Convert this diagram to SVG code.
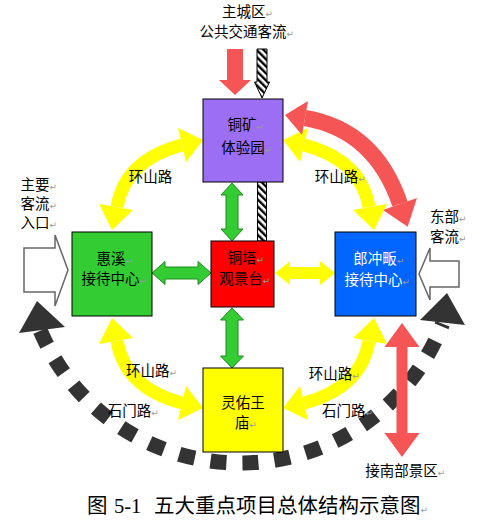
<svg xmlns="http://www.w3.org/2000/svg" width="491" height="528" viewBox="0 0 491 528">
<style>
.t{font-family:"Noto Sans CJK SC","Liberation Sans",sans-serif;font-size:14.5px;fill:#000}
.w{fill:#fff}
.pm{font-family:"DejaVu Sans",sans-serif;font-size:9px;fill:#999}
.box{stroke:#000;stroke-width:1}
.yl{fill:none;stroke:#ffff00;stroke-width:13}
.yh{fill:#ffff00}
.rd{fill:#f55555}
.gr{fill:#33cc33;stroke:#1f8a1f;stroke-width:1}
.wa{fill:#fff;stroke:#666;stroke-width:1.5}
.dk{fill:#333}
</style>
<defs>
<pattern id="hatch" patternUnits="userSpaceOnUse" width="5" height="5" patternTransform="rotate(-45)">
<rect width="5" height="5" fill="#fff"/>
<rect width="2.4" height="5" fill="#000"/>
</pattern>
</defs>
<rect width="491" height="528" fill="#fff"/>
<g id="connectors">
<path d="M40.3,330.8 A217,217 0 0,0 442.6,323.8" fill="none" stroke="#333" stroke-width="15" stroke-dasharray="16 16"/>
<polygon class="dk" points="19,333 37,301 65,327"/>
<polygon class="dk" points="420,320 447,293 465,325"/>
<path class="yl" d="M182,145 Q125,160 117,207"/>
<polygon class="yh" points="203,140 178,128 186,162"/>
<polygon class="yh" points="112,230 99,204 133,210"/>
<path class="yl" d="M304,145 Q361,160 369,207"/>
<polygon class="yh" points="283,140 308,128 300,162"/>
<polygon class="yh" points="374,230 387,204 353,210"/>
<path class="yl" d="M182,403 Q125,388 117,341"/>
<polygon class="yh" points="203,408 178,420 186,386"/>
<polygon class="yh" points="112,318 99,344 133,338"/>
<path class="yl" d="M304,403 Q361,388 369,341"/>
<polygon class="yh" points="283,408 308,420 300,386"/>
<polygon class="yh" points="374,318 387,344 353,338"/>
<path d="M305,118 Q375,130 400,204" fill="none" stroke="#f55555" stroke-width="16"/>
<polygon class="rd" points="285,115 308,101 302,135"/>
<polygon class="rd" points="407.7,226.8 417,198 383,210"/>
<polygon class="rd" points="402,323 419.5,347 407.5,347 407.5,433 419.5,433 402,457 384.5,433 396.5,433 396.5,347 384.5,347"/>
<polygon class="rd" points="227,49 243,49 243,80 251,80 235,95 219,80 227,80"/>
<polygon points="257,49 267,49 267,82 269.5,82 262,98 254.5,82 257,82" fill="url(#hatch)" stroke="#000" stroke-width="1"/>
<rect x="257.5" y="182" width="9" height="59" fill="url(#hatch)" stroke="#000" stroke-width="1"/>
<polygon class="gr" points="232,183 243,195 238,195 238,229 243,229 232,241 221,229 226,229 226,195 221,195"/>
<polygon class="gr" points="152,273 165,261.5 165,267 198,267 198,261.5 211,273 198,284.5 198,279 165,279 165,284.5"/>
<polygon class="gr" points="232,308 243.5,320 238,320 238,356 243.5,356 232,368 220.5,356 226,356 226,320 220.5,320"/>
<polygon class="yh" points="275,273 290,261 290,267 320,267 320,261 335,273 320,285 320,279 290,279 290,285"/>
<polygon class="wa" points="24,248 55,248 55,235 68,270 55,306 55,292 24,292"/>
<polygon class="wa" points="459,261 430,261 430,248 419,274 430,300 430,287 459,287"/>
</g>
<g id="node-tongkuang">
<rect class="box" x="203" y="99" width="80" height="83" fill="#9b6ef3"/>
<text class="t" x="227.5" y="129.5">铜矿<tspan class="pm">↵</tspan></text>
<text class="t" x="221.25" y="152.5">体验园<tspan class="pm">↵</tspan></text>
</g>
<g id="node-huixi">
<rect class="box" x="72" y="232" width="80" height="84" fill="#33cc33"/>
<text class="t" x="96.5" y="263.5">惠溪<tspan class="pm">↵</tspan></text>
<text class="t" x="81.5" y="283.5">接待中心<tspan class="pm">↵</tspan></text>
</g>
<g id="node-tongta">
<rect class="box" x="211" y="241" width="63" height="66" fill="#ff0000"/>
<text class="t" x="227.5" y="262.5">铜塔<tspan class="pm">↵</tspan></text>
<text class="t" x="219.25" y="283.5">观景台<tspan class="pm">↵</tspan></text>
</g>
<g id="node-langchong">
<rect class="box" x="335" y="232" width="81" height="84" fill="#0066ff"/>
<text class="t w" x="353.25" y="263.5">郎冲畈<tspan class="pm">↵</tspan></text>
<text class="t w" x="344.5" y="284.5">接待中心<tspan class="pm">↵</tspan></text>
</g>
<g id="node-lingyou">
<rect class="box" x="203" y="368" width="80" height="84" fill="#ffff00"/>
<text class="t" x="221.25" y="407.5">灵佑王</text>
<text class="t" x="234.75" y="427.5">庙<tspan class="pm">↵</tspan></text>
</g>
<g id="labels">
<text class="t" x="222" y="17">主城区<tspan class="pm">↵</tspan></text>
<text class="t" x="199.5" y="37">公共交通客流<tspan class="pm">↵</tspan></text>
<text class="t" x="128.75" y="181.5">环山路</text>
<text class="t" x="314.75" y="182">环山路<tspan class="pm">↵</tspan></text>
<text class="t" x="20.5" y="189.5">主要<tspan class="pm">↵</tspan></text>
<text class="t" x="20.5" y="209">客流<tspan class="pm">↵</tspan></text>
<text class="t" x="20.5" y="228">入口<tspan class="pm">↵</tspan></text>
<text class="t" x="430" y="221.5">东部<tspan class="pm">↵</tspan></text>
<text class="t" x="430" y="241.5">客流<tspan class="pm">↵</tspan></text>
<text class="t" x="126" y="375.5">环山路<tspan class="pm">↵</tspan></text>
<text class="t" x="107.75" y="416">石门路<tspan class="pm">↵</tspan></text>
<text class="t" x="308.75" y="379">环山路<tspan class="pm">↵</tspan></text>
<text class="t" x="322" y="416">石门路<tspan class="pm">↵</tspan></text>
<text class="t" x="365.25" y="475.5">接南部景区<tspan class="pm">↵</tspan></text>
<text style="font-family:'Noto Sans CJK SC',sans-serif;font-size:20.5px" y="513"><tspan x="87">图</tspan><tspan x="114" style="font-family:'Liberation Serif',serif">5-1</tspan><tspan x="154">五大重点项目总体结构示意图</tspan><tspan class="pm">↵</tspan></text>
</g>
</svg>
